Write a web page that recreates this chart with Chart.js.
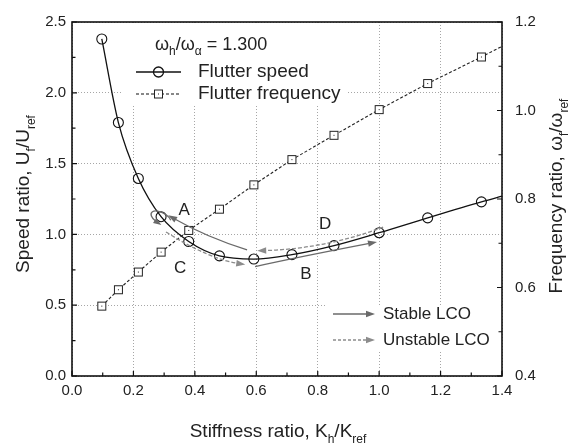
<!DOCTYPE html>
<html>
<head>
<meta charset="utf-8">
<script src="https://cdn.jsdelivr.net/npm/chart.js@4.4.1/dist/chart.umd.min.js"></script>
<style>
  html, body { margin: 0; padding: 0; background: #fff; }
  #wrap { width: 570px; height: 444px; }
</style>
</head>
<body>
<div id="wrap"><canvas id="chart" width="570" height="444"></canvas></div>
<script>
// stiffness ratio Kh/Kref (last entry = where the curves meet the frame, no marker)
const stiffness  = [0.097, 0.151, 0.216, 0.29, 0.38, 0.48, 0.592, 0.716, 0.853, 1.0, 1.158, 1.333, 1.4];
const speedRatio = [2.38, 1.79, 1.395, 1.125, 0.95, 0.848, 0.826, 0.857, 0.921, 1.012, 1.117, 1.23, 1.27];
const freqRatio  = [0.558, 0.595, 0.635, 0.68, 0.729, 0.777, 0.832, 0.889, 0.944, 1.002, 1.061, 1.121, 1.145];

// LCO paths, [start, middle, end] in (Kh/Kref, Uf/Uref)
const stablePaths   = [
  [[0.570, 0.891], [0.440, 0.996], [0.313, 1.135]],   // A
  [[0.596, 0.773], [0.765, 0.850], [0.993, 0.947]]    // B
];
const unstablePaths = [
  [[0.306, 1.017], [0.440, 0.864], [0.564, 0.787]],   // C
  [[1.013, 1.052], [0.818, 0.933], [0.603, 0.884]]    // D
];
const pathLabels = ['A', 'B', 'C', 'D'];
const labelPos   = [[0.365, 1.17], [0.762, 0.717], [0.352, 0.759], [0.824, 1.072]];
const loopCenter = [0.29, 1.115];

const xTicks = [0, 0.2, 0.4, 0.6, 0.8, 1.0, 1.2, 1.4];
const ratioLabel = '1.300';

const FONT = "'Liberation Sans', Arial, sans-serif";
const lastIdx = stiffness.length - 1;

function squareMarker() {
  const c = document.createElement('canvas');
  c.width = 11; c.height = 11;
  const g = c.getContext('2d');
  g.fillStyle = '#fff';
  g.fillRect(1, 1, 9, 9);
  g.strokeStyle = '#222';
  g.lineWidth = 1;
  g.strokeRect(1.5, 1.5, 8, 8);
  g.fillStyle = '#222';
  g.fillRect(5, 5, 1, 1);
  return c;
}
const sq = squareMarker();

// text with subscripts, parts = [[text, isSub], ...]
function richWidth(ctx, parts, size, subSize) {
  let w = 0;
  parts.forEach(([t, sub]) => {
    ctx.font = (sub ? subSize : size) + 'px ' + FONT;
    w += ctx.measureText(t).width;
  });
  return w;
}
function drawRich(ctx, parts, x, y, size, subSize, align) {
  let cx = x;
  if (align === 'center') cx = x - richWidth(ctx, parts, size, subSize) / 2;
  ctx.textAlign = 'left';
  ctx.textBaseline = 'alphabetic';
  parts.forEach(([t, sub]) => {
    ctx.font = (sub ? subSize : size) + 'px ' + FONT;
    ctx.fillText(t, cx, sub ? y + size * 0.3 : y);
    cx += ctx.measureText(t).width;
  });
}

function arrowHead(ctx, x, y, ang, len, half) {
  ctx.save();
  ctx.setLineDash([]);
  ctx.beginPath();
  ctx.moveTo(x, y);
  ctx.lineTo(x - len * Math.cos(ang) - half * Math.sin(ang), y - len * Math.sin(ang) + half * Math.cos(ang));
  ctx.lineTo(x - len * Math.cos(ang) + half * Math.sin(ang), y - len * Math.sin(ang) - half * Math.cos(ang));
  ctx.closePath();
  ctx.fill();
  ctx.restore();
}

function curveArrow(ctx, xs, ys, pts, dashed) {
  const p = pts.map(([vx, vy]) => [xs.getPixelForValue(vx), ys.getPixelForValue(vy)]);
  const cx = 2 * p[1][0] - (p[0][0] + p[2][0]) / 2;
  const cy = 2 * p[1][1] - (p[0][1] + p[2][1]) / 2;
  const ang = Math.atan2(p[2][1] - cy, p[2][0] - cx);
  const col = dashed ? '#8c8c8c' : '#6a6a6a';
  ctx.save();
  ctx.strokeStyle = col;
  ctx.fillStyle = col;
  ctx.lineWidth = 1.3;
  ctx.setLineDash(dashed ? [4, 2] : []);
  ctx.beginPath();
  ctx.moveTo(p[0][0], p[0][1]);
  ctx.quadraticCurveTo(cx, cy, p[2][0] - 5 * Math.cos(ang), p[2][1] - 5 * Math.sin(ang));
  ctx.stroke();
  arrowHead(ctx, p[2][0], p[2][1], ang, 9, 3.2);
  ctx.restore();
}

function straightArrow(ctx, x0, x1, y, dashed) {
  const col = dashed ? '#8c8c8c' : '#6a6a6a';
  ctx.save();
  ctx.strokeStyle = col;
  ctx.fillStyle = col;
  ctx.lineWidth = 1.3;
  ctx.setLineDash(dashed ? [3, 2] : []);
  ctx.beginPath();
  ctx.moveTo(x0, y);
  ctx.lineTo(x1 - 5, y);
  ctx.stroke();
  arrowHead(ctx, x1, y, 0, 9, 3.2);
  ctx.restore();
}

const decor = {
  id: 'decor',
  beforeDatasetsDraw(chart) {
    const ctx = chart.ctx;
    ctx.save();
    ctx.fillStyle = '#fff';
    ctx.fillRect(123, 23, 224, 83);   // legend box
    ctx.fillRect(325, 305, 175, 47);  // LCO legend box
    ctx.restore();
  },
  afterDatasetsDraw(chart) {
    const ctx = chart.ctx;
    const ca = chart.chartArea;
    const xs = chart.scales.x, ys = chart.scales.y, y2 = chart.scales.y2;

    // frame
    ctx.save();
    ctx.strokeStyle = '#111';
    ctx.lineWidth = 1.6;
    ctx.strokeRect(ca.left, ca.top, ca.right - ca.left, ca.bottom - ca.top);

    // inward ticks
    ctx.lineWidth = 1.2;
    ctx.beginPath();
    for (let i = 0; i <= 14; i++) {
      const px = xs.getPixelForValue(i / 10);
      const len = i % 2 === 0 ? 5 : 3.5;
      ctx.moveTo(px, ca.bottom); ctx.lineTo(px, ca.bottom - len);
    }
    for (let i = 0; i <= 10; i++) {
      const py = ys.getPixelForValue(i * 0.25);
      const len = i % 2 === 0 ? 5 : 3.5;
      ctx.moveTo(ca.left, py); ctx.lineTo(ca.left + len, py);
    }
    for (let i = 4; i <= 12; i++) {
      const py = y2.getPixelForValue(i / 10);
      const len = i % 2 === 0 ? 5 : 3.5;
      ctx.moveTo(ca.right, py); ctx.lineTo(ca.right - len, py);
    }
    ctx.stroke();
    ctx.restore();

    // LCO paths
    stablePaths.forEach(p => curveArrow(ctx, xs, ys, p, false));
    unstablePaths.forEach(p => curveArrow(ctx, xs, ys, p, true));

    // small loop at A
    const lx = xs.getPixelForValue(loopCenter[0]), ly = ys.getPixelForValue(loopCenter[1]);
    ctx.save();
    ctx.strokeStyle = '#6a6a6a';
    ctx.fillStyle = '#6a6a6a';
    ctx.lineWidth = 1.3;
    const rx = 11, ry = 5.5, rot = 0.5;
    ctx.beginPath();
    ctx.ellipse(lx, ly, rx, ry, rot, 330 * Math.PI / 180, 105 * Math.PI / 180, true);
    ctx.stroke();
    const th = 100 * Math.PI / 180;
    const ex = lx + rx * Math.cos(th) * Math.cos(rot) - ry * Math.sin(th) * Math.sin(rot);
    const ey = ly + rx * Math.cos(th) * Math.sin(rot) + ry * Math.sin(th) * Math.cos(rot);
    const dx = rx * Math.sin(th) * Math.cos(rot) + ry * Math.cos(th) * Math.sin(rot);
    const dy = rx * Math.sin(th) * Math.sin(rot) - ry * Math.cos(th) * Math.cos(rot);
    arrowHead(ctx, ex + dx * 0.5, ey + dy * 0.5, Math.atan2(dy, dx), 8, 3);
    ctx.restore();

    // path labels
    ctx.save();
    ctx.fillStyle = '#222';
    ctx.font = '17px ' + FONT;
    ctx.textAlign = 'center';
    ctx.textBaseline = 'middle';
    pathLabels.forEach((t, i) => {
      ctx.fillText(t, xs.getPixelForValue(labelPos[i][0]), ys.getPixelForValue(labelPos[i][1]));
    });
    ctx.restore();

    // legend (top left)
    ctx.save();
    ctx.fillStyle = '#222';
    drawRich(ctx, [['ω', false], ['h', true], ['/ω', false], ['α', true], [' = ' + ratioLabel, false]], 155, 50, 18, 12, 'left');
    ctx.strokeStyle = '#111';
    ctx.lineWidth = 1.3;
    ctx.beginPath(); ctx.moveTo(136, 72); ctx.lineTo(181, 72); ctx.stroke();
    ctx.beginPath(); ctx.arc(158.5, 72, 5, 0, Math.PI * 2); ctx.stroke();
    ctx.lineWidth = 1.1;
    ctx.setLineDash([3, 2]);
    ctx.beginPath(); ctx.moveTo(136, 94); ctx.lineTo(181, 94); ctx.stroke();
    ctx.setLineDash([]);
    ctx.drawImage(sq, 153, 88.5);
    ctx.font = '19px ' + FONT;
    ctx.textAlign = 'left';
    ctx.textBaseline = 'middle';
    ctx.fillText('Flutter speed', 198, 72);
    ctx.fillText('Flutter frequency', 198, 94);

    // LCO legend
    straightArrow(ctx, 333, 375, 314, false);
    straightArrow(ctx, 333, 375, 340, true);
    ctx.fillStyle = '#222';
    ctx.font = '17px ' + FONT;
    ctx.fillText('Stable LCO', 383, 314);
    ctx.fillText('Unstable LCO', 383, 340);
    ctx.restore();

    // axis titles
    ctx.save();
    ctx.fillStyle = '#222';
    drawRich(ctx, [['Stiffness ratio, K', false], ['h', true], ['/K', false], ['ref', true]], 278, 437, 19, 12, 'center');
    ctx.save();
    ctx.translate(29, 194);
    ctx.rotate(-Math.PI / 2);
    drawRich(ctx, [['Speed ratio, U', false], ['f', true], ['/U', false], ['ref', true]], 0, 0, 19, 12, 'center');
    ctx.restore();
    ctx.save();
    ctx.translate(562, 196);
    ctx.rotate(-Math.PI / 2);
    drawRich(ctx, [['Frequency ratio, ω', false], ['f', true], ['/ω', false], ['ref', true]], 0, 0, 19, 12, 'center');
    ctx.restore();
    ctx.restore();
  }
};

const tickFont = { family: FONT, size: 15 };

new Chart(document.getElementById('chart'), {
  type: 'line',
  data: {
    datasets: [
      {
        label: 'Flutter frequency',
        yAxisID: 'y2',
        data: stiffness.map((k, i) => ({ x: k, y: freqRatio[i] })),
        borderColor: '#222',
        borderWidth: 1.1,
        borderDash: [3, 2],
        tension: 0,
        pointStyle: sq,
        pointRadius: (c) => c.dataIndex === lastIdx ? 0 : 5
      },
      {
        label: 'Flutter speed',
        yAxisID: 'y',
        data: stiffness.map((k, i) => ({ x: k, y: speedRatio[i] })),
        borderColor: '#111',
        borderWidth: 1.3,
        cubicInterpolationMode: 'monotone',
        pointStyle: 'circle',
        pointRadius: (c) => c.dataIndex === lastIdx ? 0 : 5,
        pointBorderWidth: 1.1,
        pointBorderColor: '#111',
        pointBackgroundColor: 'rgba(0,0,0,0)'
      }
    ]
  },
  options: {
    responsive: false,
    animation: false,
    layout: { padding: { top: 16, left: 0, right: 0, bottom: 0 } },
    plugins: { legend: { display: false }, tooltip: { enabled: false } },
    scales: {
      x: {
        type: 'linear',
        min: 0, max: 1.4,
        afterBuildTicks: (s) => { s.ticks = xTicks.map(v => ({ value: v })); },
        ticks: { callback: (v) => v.toFixed(1), padding: 6, font: tickFont, color: '#222', maxRotation: 0, autoSkip: false },
        grid: { color: '#a6a6a6', lineWidth: 1, drawTicks: false },
        border: { display: false, dash: [1, 2] },
        afterFit: (s) => { s.height = 68; }
      },
      y: {
        position: 'left',
        min: 0, max: 2.5,
        ticks: { stepSize: 0.5, callback: (v) => v.toFixed(1), padding: 6, font: tickFont, color: '#222' },
        grid: { color: '#a6a6a6', lineWidth: 1, drawTicks: false },
        border: { display: false, dash: [1, 2] },
        afterFit: (s) => { s.width = 72; }
      },
      y2: {
        position: 'right',
        min: 0.4, max: 1.2,
        ticks: { stepSize: 0.2, callback: (v) => v.toFixed(1), padding: 13, font: tickFont, color: '#222' },
        grid: { display: false, drawTicks: false },
        border: { display: false },
        afterFit: (s) => { s.width = 68; }
      }
    }
  },
  plugins: [decor]
});
</script>
</body>
</html>
